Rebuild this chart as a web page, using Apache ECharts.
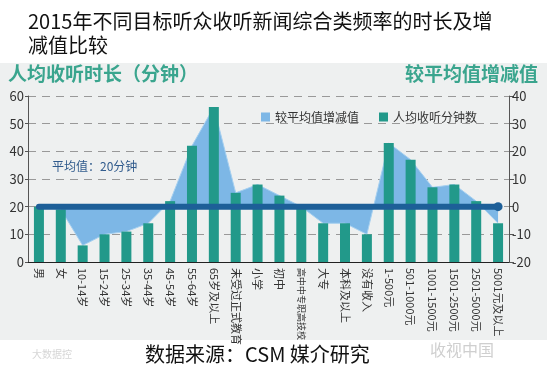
<!DOCTYPE html>
<html>
<head>
<meta charset="utf-8">
<script src="https://cdn.jsdelivr.net/npm/echarts@6/dist/echarts.min.js"></script>
<style>
html,body{margin:0;padding:0;background:#fff;}
#c{width:547px;height:373px;}
</style>
</head>
<body>
<div id="c"></div>
<script>
var categories = ['男','女','10-14岁','15-24岁','25-34岁','35-44岁','45-54岁','55-64岁','65岁及以上','未受过正式教育','小学','初中','高中/中专/职高/技校','大专','本科及以上','没有收入','1-500元','501-1000元','1001-1500元','1501-2500元','2501-5000元','5001元及以上'];
var minutes = [20, 19, 6, 10, 11, 14, 22, 42, 56, 25, 28, 24, 20, 14, 14, 10, 43, 37, 27, 28, 22, 14];
var diffFromAvg = [0, -1, -14, -10, -9, -6, 2, 22, 36, 5, 8, 4, 0, -6, -6, -10, 23, 17, 7, 8, 2, -6];
var avgLine = [20,20,20,20,20,20,20,20,20,20,20,20,20,20,20,20,20,20,20,20,20,20];
var leftTicks = [0, 60, 10];
var rightTicks = [-20, 40, 10];

var font = '"Noto Sans CJK SC","Noto Sans",sans-serif';
var chart = echarts.init(document.getElementById('c'));
chart.setOption({
  backgroundColor: '#ffffff',
  textStyle: {fontFamily: font},
  graphic: [
    {type:'rect', left:0, top:63, shape:{width:547, height:277}, style:{fill:'#eef0f0'}, z:-10},
    {type:'text', left:28, top:9, style:{text:'2015年不同目标听众收听新闻综合类频率的时长及增\n减值比较', font:'20px ' + font, fill:'#111', lineHeight:24}},
    {type:'text', left:8, top:64, style:{text:'人均收听时长（分钟）', font:'bold 19px ' + font, fill:'#3aa58e'}},
    {type:'text', right:9, top:64, style:{text:'较平均值增减值', font:'bold 19px ' + font, fill:'#3aa58e'}},
    {type:'text', left:52, top:160, style:{text:'平均值：20分钟', font:'12px ' + font, fill:'#2f5a8c'}},
    {type:'text', left:145, top:344, style:{text:'数据来源：CSM 媒介研究', font:'20px ' + font, fill:'#111'}},
    {type:'text', left:430, top:342, style:{text:'收视中国', font:'16px ' + font, fill:'#cfcfcf'}},
    {type:'text', left:32, top:349, style:{text:'大数据控', font:'10px ' + font, fill:'#d6d6d6'}}
  ],
  legend: {
    left: 256, top: 106, itemWidth: 9, itemHeight: 9, itemGap: 20,
    textStyle: {fontSize: 12, color: '#333'},
    data: [{name:'较平均值增减值', icon:'rect'}, {name:'人均收听分钟数', icon:'rect'}]
  },
  grid: {left: 28, right: 38, top: 96, bottom: 111},
  xAxis: {
    type: 'category', data: categories,
    axisLine: {show: true, lineStyle: {color: '#222', width: 1}},
    axisTick: {show: false},
    axisLabel: {rotate: -90, fontSize: 11, color: '#333', margin: 6, interval: 0,
      formatter: function (v) { return v.indexOf('/') >= 0 ? '{s|' + v.replace(/\//g, '') + '}' : v; },
      rich: {s: {fontSize: 9, color: '#333'}}}
  },
  yAxis: [
    {type: 'value', min: leftTicks[0], max: leftTicks[1], interval: leftTicks[2],
     axisLine: {show: true, lineStyle: {color: '#555'}},
     axisTick: {show: true, length: 3, lineStyle: {color: '#555'}},
     axisLabel: {fontSize: 13, color: '#333', margin: 4},
     splitLine: {show: true, lineStyle: {color: '#999', type: [8, 6], width: 1}}},
    {type: 'value', min: rightTicks[0], max: rightTicks[1], interval: rightTicks[2],
     axisLine: {show: true, lineStyle: {color: '#555'}},
     axisTick: {show: true, length: 5, lineStyle: {color: '#555'}},
     axisLabel: {fontSize: 13, color: '#333', margin: 3},
     splitLine: {show: false}}
  ],
  series: [
    {name: '较平均值增减值', type: 'line', yAxisIndex: 1, data: diffFromAvg,
     symbol: 'none', itemStyle: {color: '#7db7e6'},
     lineStyle: {color: '#a6d0f0', width: 1},
     areaStyle: {color: '#7db7e6', opacity: 1}, z: 1},
    {name: '人均收听分钟数', type: 'bar', yAxisIndex: 0, data: minutes,
     barWidth: 10, itemStyle: {color: '#22998a'}, z: 2},
    {name: 'avg', type: 'line', yAxisIndex: 0, data: avgLine,
     symbol: function (v, p) { return p.dataIndex === avgLine.length - 1 ? 'circle' : 'none'; },
     symbolSize: 9, showSymbol: true,
     itemStyle: {color: '#1d5f98'},
     lineStyle: {color: '#1d5f98', width: 6, cap: 'round'}, z: 3, silent: true}
  ],
  animation: false
});
</script>
</body>
</html>
